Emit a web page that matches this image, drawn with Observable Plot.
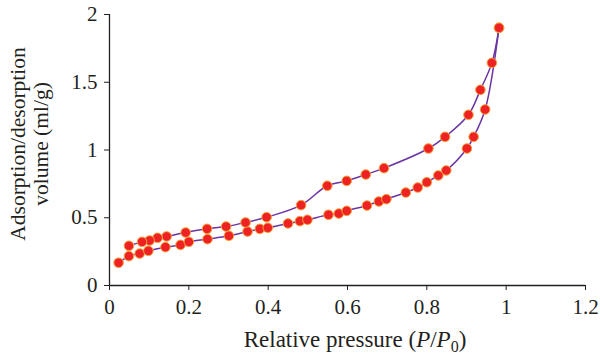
<!DOCTYPE html>
<html>
<head>
<meta charset="utf-8">
<script src="https://cdn.jsdelivr.net/npm/d3@7"></script>
<script src="https://cdn.jsdelivr.net/npm/@observablehq/plot@0.6"></script>
<style>
html,body{margin:0;padding:0;background:#fff;}
</style>
</head>
<body>
<div id="chart"></div>
<script>
const adsX = [0.023,0.049,0.076,0.098,0.141,0.179,0.200,0.247,0.301,0.348,0.379,0.399,0.450,0.480,0.499,0.552,0.578,0.598,0.649,0.679,0.698,0.747,0.777,0.800,0.829,0.849,0.901,0.918,0.947,0.982];
const adsY = [0.168,0.217,0.236,0.256,0.283,0.300,0.322,0.342,0.367,0.398,0.418,0.426,0.458,0.475,0.485,0.522,0.531,0.551,0.590,0.620,0.637,0.686,0.723,0.762,0.812,0.849,1.011,1.097,1.299,1.902];
const desX = [0.982,0.964,0.935,0.905,0.846,0.804,0.692,0.646,0.598,0.549,0.483,0.396,0.343,0.294,0.246,0.192,0.144,0.121,0.101,0.082,0.049];
const desY = [1.902,1.643,1.444,1.260,1.097,1.011,0.866,0.819,0.772,0.736,0.593,0.504,0.465,0.435,0.418,0.391,0.362,0.352,0.332,0.322,0.293];
const xTicks = [0,0.2,0.4,0.6,0.8,1,1.2];
const yTicks = [0,0.5,1,1.5,2];

const ads = adsX.map((x,i)=>({x, y: adsY[i]}));
const des = desX.map((x,i)=>({x, y: desY[i]}));

const font = "'Liberation Serif', 'DejaVu Serif', serif";
const lineColor = "#6c35a3";
const ink = "#231f20";

const chart = Plot.plot({
  width: 600,
  height: 364,
  marginLeft: 109,
  marginRight: 15,
  marginTop: 14,
  marginBottom: 79,
  style: {fontFamily: font, fontSize: "21px", color: ink, background: "#fff"},
  x: {domain: [0, 1.2]},
  y: {domain: [0, 2]},
  marks: [
    Plot.axisX({ticks: xTicks, tickFormat: d => String(d), tickSize: 5, tickPadding: 9, label: null, fontSize: 21}),
    Plot.axisY({ticks: yTicks, tickFormat: d => String(d), tickSize: 5, tickPadding: 7, label: null, fontSize: 21}),
    Plot.ruleX([0], {stroke: ink, strokeWidth: 1.3}),
    Plot.ruleY([0], {stroke: ink, strokeWidth: 1.3}),
    Plot.line(ads, {x: "x", y: "y", stroke: lineColor, strokeWidth: 1.5, curve: "catmull-rom"}),
    Plot.line(des, {x: "x", y: "y", stroke: lineColor, strokeWidth: 1.5, curve: "catmull-rom"}),
    Plot.dot(ads, {x: "x", y: "y", r: 4.8, fill: "#ee2222", stroke: "#f7a13a", strokeWidth: 1}),
    Plot.dot(des, {x: "x", y: "y", r: 4.8, fill: "#ee2222", stroke: "#f7a13a", strokeWidth: 1})
  ]
});

const svg = d3.select(chart);
// x-axis title
const xt = svg.append("text")
  .attr("x", 355).attr("y", 347)
  .attr("text-anchor", "middle")
  .attr("font-family", font).attr("font-size", 23).attr("fill", ink);
xt.append("tspan").text("Relative pressure (");
xt.append("tspan").attr("font-style", "italic").text("P");
xt.append("tspan").text("/");
xt.append("tspan").attr("font-style", "italic").text("P");
xt.append("tspan").attr("font-size", 16).attr("dy", 5).text("0");
xt.append("tspan").attr("dy", -5).text(")");

// y-axis title (two lines)
const yt = svg.append("g").attr("transform", "translate(0,144) rotate(-90)");
yt.append("text").attr("x", 0).attr("y", 25).attr("text-anchor", "middle")
  .attr("font-family", font).attr("font-size", 21.5).attr("fill", ink)
  .text("Adsorption/desorption");
yt.append("text").attr("x", 0).attr("y", 48).attr("text-anchor", "middle")
  .attr("font-family", font).attr("font-size", 21.5).attr("fill", ink)
  .text("volume (ml/g)");

document.getElementById("chart").appendChild(chart);
</script>
</body>
</html>
